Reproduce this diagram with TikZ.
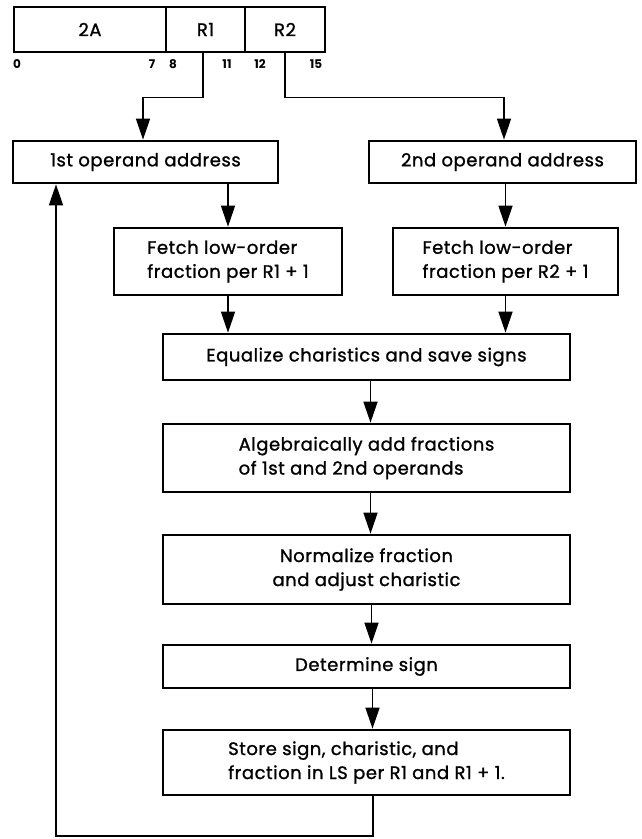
\documentclass[tikz,border=0pt]{standalone}
\usepackage{fontspec}
\setmainfont{Poppins}
\newfontfamily\labelfont{Poppins}[FakeBold=1.2, LetterSpace=3]
\usetikzlibrary{arrows.meta}
\begin{document}
\begin{tikzpicture}[x=1pt,y=-1pt,
  box/.style={draw, line width=2.7pt, rectangle, inner sep=0pt,
    font=\labelfont\fontsize{18}{24}\selectfont},
  flow/.style={line width=1.5pt, -{Triangle[length=21pt,width=14pt]}},
  bit/.style={font=\bfseries\fontsize{12}{14}\selectfont, inner sep=0pt}
]
\useasboundingbox (0,0) rectangle (642,839);

% instruction format fields
\node[box, minimum width=152pt, minimum height=45pt] (f2a) at (90,29.5) {2A};
\node[box, minimum width=79pt, minimum height=45pt] (fr1) at (205.5,29.5) {R1};
\node[box, minimum width=80pt, minimum height=45pt] (fr2) at (285,29.5) {R2};

% bit positions
\node[bit] (b0) at (17,64) {0};
\node[bit] (b7) at (152,64) {7};
\node[bit] (b8) at (173,64) {8};
\node[bit] (b11) at (227,64) {11};
\node[bit] (b12) at (260,64) {12};
\node[bit] (b15) at (316,64) {15};

% flow boxes
\node[box, minimum width=265pt, minimum height=42pt] (op1) at (145.5,162) {1st operand address};
\node[box, minimum width=267pt, minimum height=42pt] (op2) at (502.5,162) {2nd operand address};
\node[box, minimum width=228pt, minimum height=67pt, align=left] (fe1) at (228,261.5)
  {Fetch low-order\\fraction per R1 + 1};
\node[box, minimum width=225pt, minimum height=67pt, align=left] (fe2) at (505.5,261.5)
  {Fetch low-order\\fraction per R2 + 1};
\node[box, minimum width=407pt, minimum height=46pt] (eq) at (366.5,357)
  {Equalize charistics and save signs};
\node[box, minimum width=407pt, minimum height=68pt, align=left] (alg) at (366.5,458)
  {Algebraically add fractions\\of 1st and 2nd operands};
\node[box, minimum width=407pt, minimum height=69pt, align=center] (nor) at (366.5,569.5)
  {Normalize fraction\\and adjust charistic};
\node[box, minimum width=407pt, minimum height=43pt] (det) at (366.5,666.5)
  {Determine sign};
\node[box, minimum width=407pt, minimum height=65pt, align=left] (sto) at (366.5,762.5)
  {Store sign, charistic, and\\fraction in LS per R1 and R1 + 1.};

% routing points
\coordinate (k1) at (143,97.5);
\coordinate (k2) at (504,97.5);
\coordinate (fb) at (56,836);

% connectors
\draw[flow] ([xshift=-2.5pt]fr1.south) |- (k1) -- (k1 |- op1.north);
\draw[flow] (fr2.south) |- (k2) -- (k2 |- op2.north);
\draw[flow] (op1.south -| fe1.north) -- (fe1.north);
\draw[flow] (op2.south -| fe2.north) -- (fe2.north);
\draw[flow] (fe1.south) -- (fe1.south |- eq.north);
\draw[flow] (fe2.south) -- (fe2.south |- eq.north);
\draw[flow] ([xshift=4pt]eq.south) -- ([xshift=4pt]alg.north);
\draw[flow] ([xshift=4pt]alg.south) -- ([xshift=4pt]nor.north);
\draw[flow] ([xshift=5pt]nor.south) -- ([xshift=5pt]det.north);
\draw[flow] ([xshift=6pt]det.south) -- ([xshift=6pt]sto.north);
\draw[flow] ([xshift=6.5pt]sto.south) |- (fb) -- (fb |- op1.south);
\end{tikzpicture}
\end{document}
